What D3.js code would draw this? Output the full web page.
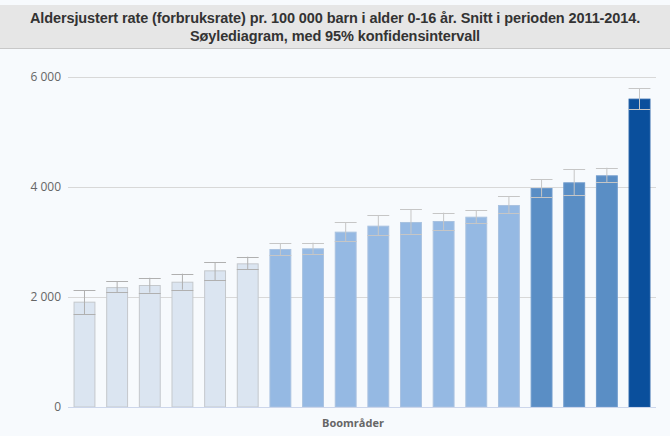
<!DOCTYPE html>
<html>
<head>
<meta charset="utf-8">
<script src="https://cdn.jsdelivr.net/npm/d3@7"></script>
<style>
  body { margin: 0; background: #fff; }
  svg { display: block; font-family: "Liberation Sans", Arial, sans-serif; }
</style>
</head>
<body>
<svg id="chart" width="670" height="436"></svg>
<script>
// rate per area, sorted ascending, with 95% CI
const rates = [1915, 2180, 2218, 2278, 2485, 2612, 2873, 2885, 3188, 3297, 3364, 3382, 3460, 3673, 3982, 4085, 4212, 5606];
const ciLow = [1690, 2085, 2080, 2133, 2309, 2503, 2764, 2780, 3018, 3127, 3150, 3218, 3345, 3521, 3824, 3848, 4085, 5418];
const ciHigh = [2127, 2290, 2350, 2424, 2636, 2733, 2982, 2988, 3358, 3491, 3600, 3533, 3576, 3836, 4145, 4327, 4351, 5794];
const groups = [0, 0, 0, 0, 0, 0, 1, 1, 1, 1, 1, 1, 1, 1, 2, 2, 2, 3];
const yTicks = [0, 2000, 4000, 6000];

const svg = d3.select("#chart");
const width = +svg.attr("width");
const height = +svg.attr("height");

const margin = {top: 77, right: 14, bottom: 29, left: 68};

const fills = ["#dbe5f1", "#95b9e3", "#5a8ec5", "#0a4f9c"];
const strokes = ["#c4c8cc", "#a9c2e0", "#6f9bcc", "#1d5ca4"];

// background
svg.append("rect")
    .attr("width", width)
    .attr("height", height)
    .attr("fill", "#f7fafd");

// title box
svg.append("rect")
    .attr("x", 0)
    .attr("y", 5)
    .attr("width", width)
    .attr("height", 43)
    .attr("fill", "#e6e6e6");
svg.append("line")
    .attr("x1", 0).attr("x2", width)
    .attr("y1", 48.5).attr("y2", 48.5)
    .attr("stroke", "#c8c8c8");

const titleLines = [
  "Aldersjustert rate (forbruksrate) pr. 100 000 barn i alder 0-16 år. Snitt i perioden 2011-2014.",
  "Søylediagram, med 95% konfidensintervall"
];
svg.append("g").selectAll("text")
    .data(titleLines)
    .join("text")
    .attr("x", width / 2)
    .attr("y", (d, i) => 23 + i * 18)
    .attr("text-anchor", "middle")
    .style("font-size", "14.5px")
    .style("font-weight", "bold")
    .style("letter-spacing", "-0.1px")
    .attr("fill", "#333")
    .text(d => d);

const x = d3.scaleBand()
    .domain(rates.map((d, i) => i))
    .range([margin.left, width - margin.right])
    .paddingInner(0.33)
    .paddingOuter(0.17);

const y = d3.scaleLinear()
    .domain([0, 6000])
    .range([height - margin.bottom, margin.top]);

// Y-axis with grid
const yAxis = svg.append("g")
    .attr("transform", `translate(${margin.left}, 0)`)
    .call(d3.axisLeft(y)
        .tickValues(yTicks)
        .tickSize(-(width - margin.left - margin.right))
        .tickPadding(7)
        .tickFormat(d => d3.format(",")(d).replace(",", " ")));
yAxis.select(".domain").remove();
yAxis.selectAll("line").attr("stroke", "#d8d8d8");
yAxis.selectAll("text")
    .attr("fill", "#666")
    .style("font-size", "12px")
    .style("font-family", "'Open Sans', sans-serif");

const bars = svg.append("g").selectAll("g")
    .data(rates.map((v, i) => ({i, v, lo: ciLow[i], hi: ciHigh[i], g: groups[i]})))
    .join("g");

bars.append("rect")
    .attr("x", d => x(d.i) + 0.5)
    .attr("y", d => y(d.v) + 0.5)
    .attr("width", x.bandwidth() - 1)
    .attr("height", d => y(0) - y(d.v) - 0.5)
    .attr("fill", d => fills[d.g])
    .attr("stroke", d => strokes[d.g]);

// error bars
const errColor = d => d.g === 0 ? "#b0b0b0" : "#c6c6c6";
bars.append("line")
    .attr("x1", d => x(d.i) + x.bandwidth() / 2)
    .attr("x2", d => x(d.i) + x.bandwidth() / 2)
    .attr("y1", d => y(d.hi))
    .attr("y2", d => y(d.lo))
    .attr("stroke", errColor);
bars.append("line")
    .attr("x1", d => x(d.i))
    .attr("x2", d => x(d.i) + x.bandwidth())
    .attr("y1", d => Math.round(y(d.hi)) + 0.5)
    .attr("y2", d => Math.round(y(d.hi)) + 0.5)
    .attr("stroke", errColor);
bars.append("line")
    .attr("x1", d => x(d.i))
    .attr("x2", d => x(d.i) + x.bandwidth())
    .attr("y1", d => Math.round(y(d.lo)) + 0.5)
    .attr("y2", d => Math.round(y(d.lo)) + 0.5)
    .attr("stroke", errColor);

// baseline
svg.append("line")
    .attr("x1", margin.left).attr("x2", width - margin.right)
    .attr("y1", y(0) + 0.5).attr("y2", y(0) + 0.5)
    .attr("stroke", "#ccd6eb");

svg.append("text")
    .attr("x", 353)
    .attr("y", height - 9)
    .attr("text-anchor", "middle")
    .attr("fill", "#666")
    .style("font-size", "11px")
    .style("font-weight", "bold")
    .style("font-family", "'Open Sans', sans-serif")
    .text("Boområder");
</script>
</body>
</html>
